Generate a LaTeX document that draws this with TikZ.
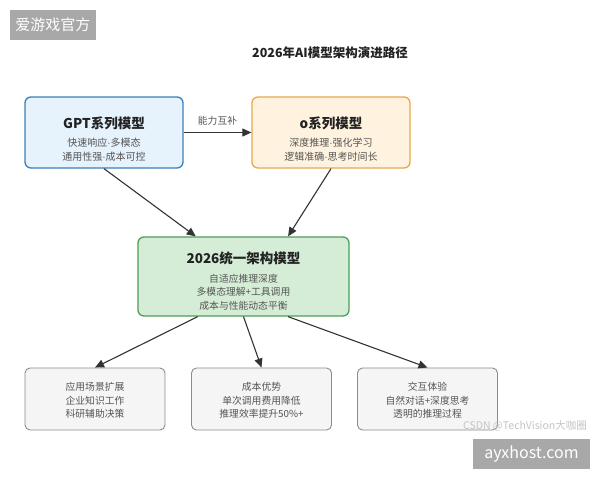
\documentclass[tikz,border=0pt]{standalone}
\usepackage{fontspec}
\setmainfont{Noto Sans CJK SC}
\newfontfamily\latinf{Liberation Sans}
\newcommand{\md}{{\latinf ·}}
\usetikzlibrary{arrows.meta,calc}
\definecolor{gptfill}{HTML}{E6F2FC}
\definecolor{gptdraw}{HTML}{3D7EBB}
\definecolor{ofill}{HTML}{FFF3E0}
\definecolor{odraw}{HTML}{E6A84C}
\definecolor{ufill}{HTML}{D5EDD6}
\definecolor{udraw}{HTML}{4E9E57}
\definecolor{bfill}{HTML}{F5F5F5}
\definecolor{bdraw}{HTML}{8C8C8C}
\definecolor{txtdark}{HTML}{222222}
\definecolor{txtsub}{HTML}{555555}
\definecolor{arrowc}{HTML}{333333}
\definecolor{wmgray}{HTML}{A8A8A8}
\definecolor{csdngray}{HTML}{C4C4C4}
\tikzset{
  mainbox/.style={rectangle, rounded corners=6pt, line width=1.3pt, inner sep=0pt},
  gptbox/.style={mainbox, fill=gptfill, draw=gptdraw, minimum width=158pt, minimum height=71pt},
  obox/.style={mainbox, fill=ofill, draw=odraw, minimum width=158pt, minimum height=71pt},
  unibox/.style={mainbox, fill=ufill, draw=udraw, minimum width=211pt, minimum height=79pt},
  outbox/.style={rectangle, rounded corners=5pt, line width=0.9pt, fill=bfill, draw=bdraw, minimum width=140pt, minimum height=62pt, inner sep=0pt},
  boxtext/.style={align=center, inner sep=0pt, text=txtsub, font=\fontsize{10}{13.8}\selectfont},
  flow/.style={draw=arrowc, line width=1.1pt, -{Triangle[length=9pt,width=8pt]}}
}
\newcommand{\btitle}[1]{{\fontsize{13.5}{16}\selectfont\bfseries\color{txtdark}#1}}
\begin{document}
\begin{tikzpicture}[x=1pt,y=-1pt]
\useasboundingbox (0,0) rectangle (600,480);
\fill[white] (0,0) rectangle (600,480);
% title
\node[font=\fontsize{12.5}{15}\selectfont\bfseries, text=txtdark] (title) at (330,53) {2026年AI模型架构演进路径};
% top boxes
\node[gptbox] (gpt) at (104,132.5) {};
\node[boxtext] (gpttxt) at (104,139) {\btitle{GPT系列模型}\\[5pt]快速响应\md 多模态\\通用性强\md 成本可控};
\node[obox] (o) at (331,132.5) {};
\node[boxtext] (otxt) at (331,139) {\btitle{o系列模型}\\[5pt]深度推理\md 强化学习\\逻辑准确\md 思考时间长};
% unified
\node[unibox] (uni) at (243.5,276.5) {};
\node[boxtext, font=\fontsize{9.8}{13.5}\selectfont] (unitxt) at (243.5,281) {\btitle{2026统一架构模型}\\[5pt]自适应推理深度\\多模态理解+工具调用\\成本与性能动态平衡};
% bottom
\node[outbox] (app) at (95,399) {};
\node[boxtext, font=\fontsize{9.8}{13.5}\selectfont] (apptxt) at (95,400.5) {应用场景扩展\\企业知识工作\\科研辅助决策};
\node[outbox] (cost) at (261.5,399) {};
\node[boxtext, font=\fontsize{9.8}{13.5}\selectfont] (costtxt) at (261.5,400.5) {成本优势\\单次调用费用降低\\推理效率提升50\%+};
\node[outbox] (inter) at (427.5,399) {};
\node[boxtext, font=\fontsize{9.8}{13.5}\selectfont] (intertxt) at (427.5,400.5) {交互体验\\自然对话+深度思考\\透明的推理过程};
% connectors
\draw[flow] (gpt.east) -- node[above=3pt, text=txtsub, font=\fontsize{9.8}{12}\selectfont] (lbl) {能力互补} (o.west);
\draw[flow] (gpt.south) -- ($(uni.north west)!0.275!(uni.north east)$);
\draw[flow] (o.south) -- ($(uni.north west)!0.71!(uni.north east)$);
\draw[flow] ($(uni.south west)!0.284!(uni.south east)$) -- (app.north);
\draw[flow] (uni.south) -- (cost.north);
\draw[flow] ($(uni.south west)!0.71!(uni.south east)$) -- (inter.north);
% watermarks
\node[fill=wmgray, minimum width=86pt, minimum height=30pt, inner sep=0pt, text=white, font=\fontsize{15}{18}\selectfont] (wm1) at (53,25) {爱游戏官方};
\node[text=csdngray, font=\fontsize{10.5}{12}\selectfont, inner sep=0pt] (wm2) at (525,426) {CSDN @TechVision大咖圈};
\node[fill=wmgray, minimum width=117pt, minimum height=30pt, inner sep=0pt, text=white, font=\fontsize{16}{18}\selectfont] (wm3) at (531.5,454) {ayxhost.com};
\end{tikzpicture}
\end{document}
